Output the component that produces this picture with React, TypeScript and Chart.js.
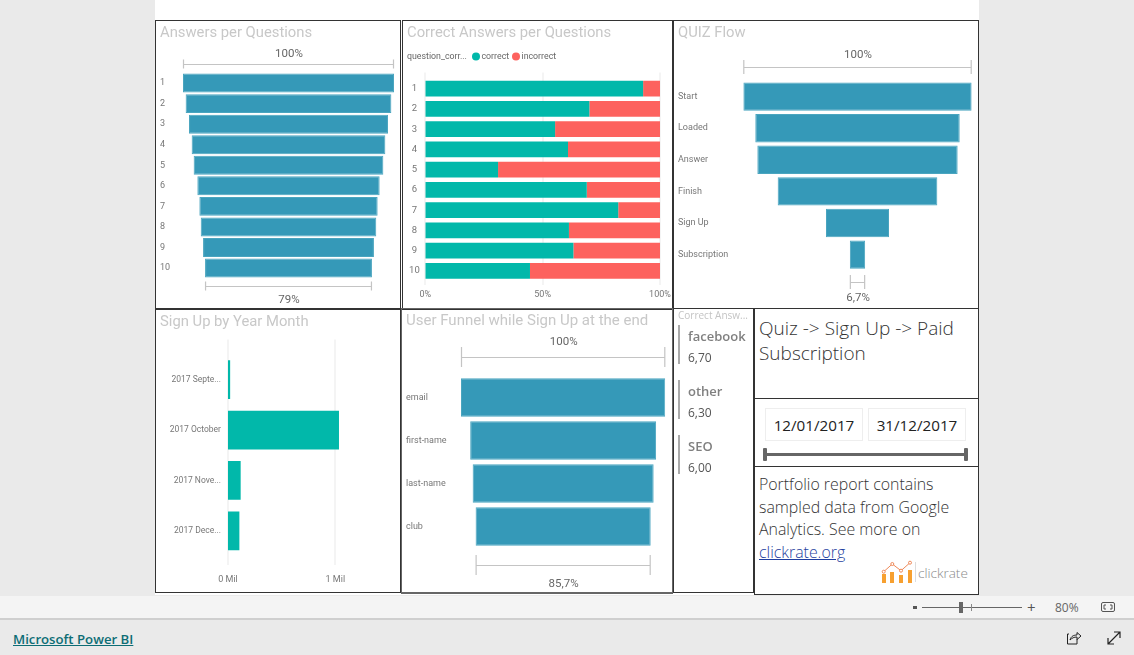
import React, { useEffect, useRef } from "react";
import { Chart, registerables } from "chart.js";

Chart.register(...registerables);

const questionLabels = ["1", "2", "3", "4", "5", "6", "7", "8", "9", "10"];
const answersPct = [100, 97.5, 94.3, 91.8, 89.9, 86.4, 84.5, 83.2, 81, 79.1];
const correctPct = [92.8, 69.9, 55.3, 60.8, 31, 68.8, 82.2, 61.2, 63.1, 44.6];
const incorrectPct = [7.2, 30.1, 44.7, 39.2, 69, 31.2, 17.8, 38.8, 36.9, 55.4];
const quizSteps = ["Start", "Loaded", "Answer", "Finish", "Sign Up", "Subscription"];
const quizPct = [100, 89.5, 87.7, 69.9, 27.6, 6.7];
const signupMonths = ["2017 Septe...", "2017 October", "2017 Nove...", "2017 Dece..."];
const signupValues = [20000, 1034000, 118000, 106000];
const funnelFields = ["email", "first-name", "last-name", "club"];
const funnelPct = [100, 91, 88.6, 85.7];
const cardNames = ["facebook", "other", "SEO"];
const cardValues = ["6,70", "6,30", "6,00"];

const DIN = "Roboto, sans-serif";
const SEGOE = "'Open Sans', sans-serif";
const BLUE = "#3599b8";
const TEAL = "#01b8aa";
const RED = "#fd625e";
const BRACKET = "#c4c4c4";
const LABEL = "#777777";

type FunnelSpec = {
  box: [number, number, number, number]; // left, top, width, height
  area: [number, number, number, number]; // left, top, right, bottom
  labels: string[];
  values: number[];
  bar: number;
  topLabel: string;
  bottomLabel: string;
  top: [number, number, number];
  bottom: [number, number, number];
};

function bracketPlugin(spec: FunnelSpec) {
  return {
    id: "bracket",
    afterDatasetsDraw(chart: any) {
      const { ctx, scales } = chart;
      const oy = spec.box[1];
      const first = spec.values[0];
      const last = spec.values[spec.values.length - 1];
      const draw = (v: number, y: number, h: number, ty: number, txt: string) => {
        const a = scales.x.getPixelForValue((100 - v) / 2);
        const b = scales.x.getPixelForValue((100 + v) / 2);
        ctx.save();
        ctx.strokeStyle = BRACKET;
        ctx.lineWidth = 1.2;
        ctx.beginPath();
        ctx.moveTo(a, y - oy + 0.5);
        ctx.lineTo(b, y - oy + 0.5);
        ctx.moveTo(a + 0.5, y - oy - h);
        ctx.lineTo(a + 0.5, y - oy + h);
        ctx.moveTo(b - 0.5, y - oy - h);
        ctx.lineTo(b - 0.5, y - oy + h);
        ctx.stroke();
        ctx.fillStyle = "#666666";
        ctx.font = `11.5px ${DIN}`;
        ctx.textAlign = "center";
        ctx.textBaseline = "middle";
        ctx.fillText(txt, (a + b) / 2 + 0.5, ty - oy);
        ctx.restore();
      };
      draw(first, spec.top[0], spec.top[1], spec.top[2], spec.topLabel);
      draw(last, spec.bottom[0], spec.bottom[1], spec.bottom[2], spec.bottomLabel);
    },
  };
}

function makeFunnel(canvas: HTMLCanvasElement, spec: FunnelSpec) {
  const [l, t, w, h] = spec.box;
  const [al, at, ar, ab] = spec.area;
  return new Chart(canvas, {
    type: "bar",
    data: {
      labels: spec.labels,
      datasets: [
        {
          data: spec.values.map((v) => [(100 - v) / 2, (100 + v) / 2]),
          backgroundColor: BLUE,
          borderColor: "#4aa5bf",
          borderWidth: 1,
          borderSkipped: false,
          barPercentage: spec.bar,
          categoryPercentage: 1,
        },
      ],
    },
    plugins: [bracketPlugin(spec)],
    options: {
      indexAxis: "y",
      animation: false,
      responsive: false,
      layout: { padding: { left: 5, top: at - t, right: l + w - ar, bottom: t + h - ab } },
      plugins: { legend: { display: false }, tooltip: { enabled: false } },
      scales: {
        x: { display: false, min: 0, max: 100 },
        y: {
          afterFit: (s: any) => { s.width = al - l - 5; },
          grid: { display: false, drawTicks: false },
          border: { display: false },
          ticks: {
            autoSkip: false,
            crossAlign: "far",
            padding: 0,
            color: LABEL,
            font: { family: DIN, size: 9 },
          },
        },
      },
    },
  } as any);
}

const gridPlugin = (up: number, down: number) => ({
  id: "longGrid",
  beforeDatasetsDraw(chart: any) {
    const { ctx, chartArea, scales } = chart;
    ctx.save();
    ctx.strokeStyle = "#f1f1f1";
    ctx.lineWidth = 1.5;
    scales.x.ticks.forEach((t: any) => {
      const x = Math.round(scales.x.getPixelForValue(t.value));
      ctx.beginPath();
      ctx.moveTo(x, chartArea.top - up);
      ctx.lineTo(x, chartArea.bottom + down);
      ctx.stroke();
    });
    ctx.restore();
  },
});

const legendPlugin = {
  id: "sideLegend",
  afterDraw(chart: any) {
    const { ctx } = chart;
    const y = 36.5;
    ctx.save();
    ctx.textBaseline = "middle";
    ctx.textAlign = "left";
    ctx.font = `8.8px ${DIN}`;
    ctx.fillStyle = "#666666";
    ctx.fillText("question_corr...", 5, y);
    const starts = [70, 110];
    chart.data.datasets.forEach((d: any, i: number) => {
      const cx = starts[i];
      ctx.fillStyle = d.backgroundColor;
      ctx.beginPath();
      ctx.arc(cx + 4, y, 4, 0, Math.PI * 2);
      ctx.fill();
      ctx.fillStyle = "#666666";
      ctx.fillText(d.label, cx + 9.5, y);
    });
    ctx.restore();
  },
};

const panelStyle = (left: number, top: number, width: number, height: number, extra: React.CSSProperties = {}): React.CSSProperties => ({
  position: "absolute",
  left,
  top,
  width,
  height,
  boxSizing: "border-box",
  border: "1px solid #333",
  background: "#fff",
  ...extra,
});

const titleStyle = (left: number, top: number, size = 14.8): React.CSSProperties => ({
  position: "absolute",
  left,
  top,
  font: `${size}px ${DIN}`,
  color: "#c8c8c8",
  whiteSpace: "nowrap",
});

const abs = (left: number, top: number, extra: React.CSSProperties = {}): React.CSSProperties => ({
  position: "absolute",
  left,
  top,
  whiteSpace: "nowrap",
  ...extra,
});

export default function App() {
  const c1 = useRef<HTMLCanvasElement>(null);
  const c2 = useRef<HTMLCanvasElement>(null);
  const c3 = useRef<HTMLCanvasElement>(null);
  const c4 = useRef<HTMLCanvasElement>(null);
  const c5 = useRef<HTMLCanvasElement>(null);

  useEffect(() => {
    document.body.style.margin = "0";
    document.body.style.overflow = "hidden";
    const charts: Chart[] = [];
    charts.push(
      makeFunnel(c1.current!, {
        box: [155, 20, 246, 288], area: [183, 72.8, 394, 278.3],
        labels: questionLabels, values: answersPct, bar: 0.92,
        topLabel: "100%", bottomLabel: "79%",
        top: [64, 4.5, 54], bottom: [286, 4.5, 300],
      })
    );
    charts.push(
      makeFunnel(c3.current!, {
        box: [673, 20, 306, 288], area: [743.3, 80.8, 971.7, 270.4],
        labels: quizSteps, values: quizPct, bar: 0.9,
        topLabel: "100%", bottomLabel: "6,7%",
        top: [67, 7, 55], bottom: [282, 7, 298],
      })
    );
    charts.push(
      makeFunnel(c5.current!, {
        box: [401, 308, 272, 286], area: [461, 376, 665.3, 548],
        labels: funnelFields, values: funnelPct, bar: 0.9,
        topLabel: "100%", bottomLabel: "85,7%",
        top: [357, 10, 342], bottom: [565, 10, 584],
      })
    );
    charts.push(
      new Chart(c2.current!, {
        type: "bar",
        data: {
          labels: questionLabels,
          datasets: [
            { label: "correct", data: correctPct, backgroundColor: TEAL, barPercentage: 0.78, categoryPercentage: 1 },
            { label: "incorrect", data: incorrectPct, backgroundColor: RED, barPercentage: 0.78, categoryPercentage: 1 },
          ],
        },
        plugins: [gridPlugin(6, 4), legendPlugin],
        options: {
          indexAxis: "y",
          animation: false,
          responsive: false,
          layout: { padding: { left: 0, top: 58.6, right: 13, bottom: 5 } },
          plugins: { legend: { display: false }, tooltip: { enabled: false } },
          scales: {
            x: {
              stacked: true, min: 0, max: 100,
              afterFit: (s: any) => { s.height = 22; s.paddingLeft = 0; s.paddingRight = 0; },
              grid: { display: false, drawTicks: false },
              border: { display: false },
              ticks: {
                stepSize: 50, maxRotation: 0, padding: 8, color: LABEL,
                font: { family: DIN, size: 9 },
                callback: (v: any) => `${v}%`,
              },
            },
            y: {
              stacked: true,
              afterFit: (s: any) => { s.width = 23.3; },
              grid: { display: false, drawTicks: false },
              border: { display: false },
              ticks: { autoSkip: false, crossAlign: "center", padding: 5.5, color: LABEL, font: { family: DIN, size: 9.5 } },
            },
          },
        },
      } as any)
    );
    charts.push(
      new Chart(c4.current!, {
        type: "bar",
        data: {
          labels: signupMonths,
          datasets: [
            { data: signupValues, backgroundColor: TEAL, barPercentage: 0.77, categoryPercentage: 1 },
          ],
        },
        plugins: [gridPlugin(15, 9)],
        options: {
          indexAxis: "y",
          animation: false,
          responsive: false,
          layout: { padding: { left: 0, top: 46.5, right: 12, bottom: 5 } },
          plugins: { legend: { display: false }, tooltip: { enabled: false } },
          scales: {
            x: {
              min: 0, max: 1500000,
              afterBuildTicks: (s: any) => { s.ticks = [{ value: 0 }, { value: 1000000 }]; },
              afterFit: (s: any) => { s.height = 32; s.paddingLeft = 0; s.paddingRight = 0; },
              grid: { display: false, drawTicks: false },
              border: { display: false },
              ticks: {
                maxRotation: 0, padding: 18.5, color: LABEL,
                font: { family: DIN, size: 9 },
                callback: (v: any) => `${v / 1000000} Mil`,
              },
            },
            y: {
              afterFit: (s: any) => { s.width = 73; },
              grid: { display: false, drawTicks: false },
              border: { display: false },
              ticks: { autoSkip: false, padding: 7, color: LABEL, font: { family: DIN, size: 8.5 } },
            },
          },
        },
      } as any)
    );
    return () => charts.forEach((c) => c.destroy());
  }, []);

  const cardTops = [325, 380, 435];
  const overlay = { background: "transparent" };

  return (
    <div style={{ position: "absolute", left: 0, top: 0, width: 1134, height: 655, background: "#eaeaea", overflow: "hidden" }}>
      <div style={{ position: "absolute", left: 155, top: 0, width: 824, height: 595, background: "#fff" }} />

      <canvas ref={c1} width={246} height={288} style={{ position: "absolute", left: 155, top: 20 }} />
      <canvas ref={c2} width={271} height={288} style={{ position: "absolute", left: 402, top: 20 }} />
      <canvas ref={c3} width={306} height={288} style={{ position: "absolute", left: 673, top: 20 }} />
      <canvas ref={c4} width={246} height={285} style={{ position: "absolute", left: 155, top: 308 }} />
      <canvas ref={c5} width={272} height={286} style={{ position: "absolute", left: 401, top: 308 }} />

      <div style={panelStyle(155, 20, 246, 290, overlay)} />
      <div style={panelStyle(402, 20, 271, 290, overlay)} />
      <div style={panelStyle(673, 20, 306, 290, overlay)} />
      <div style={panelStyle(155, 308, 246, 285, overlay)} />
      <div style={panelStyle(401, 308, 272, 286, { ...overlay, borderColor: "#666", borderBottomWidth: 2, borderRightWidth: 1 })} />

      <div style={titleStyle(160, 23)}>Answers per Questions</div>
      <div style={titleStyle(407, 23)}>Correct Answers per Questions</div>
      <div style={titleStyle(678, 23)}>QUIZ Flow</div>
      <div style={titleStyle(160, 312)}>Sign Up by Year Month</div>
      <div style={titleStyle(406, 311, 15)}>User Funnel while Sign Up at the end</div>

      <div style={panelStyle(673, 308, 81, 285)} />
      <div style={abs(678, 308, { font: `10px ${SEGOE}`, color: "#c4c4c4" })}>Correct Answ...</div>
      {cardNames.map((n, i) => (
        <React.Fragment key={n}>
          <div style={{ position: "absolute", left: 678, top: cardTops[i], width: 2, height: 39, background: "#aaaaaa" }} />
          <div style={abs(688, cardTops[i] + 2, { font: `600 13px ${SEGOE}`, color: "#808080" })}>{n}</div>
          <div style={abs(688, cardTops[i] + 24, { font: `12px ${SEGOE}`, color: "#555" })}>{cardValues[i]}</div>
        </React.Fragment>
      ))}

      <div style={panelStyle(754, 308, 225, 91)}>
        <div style={abs(4, 7, { font: `300 19px/25px ${SEGOE}`, color: "#333", whiteSpace: "pre" })}>{"Quiz -> Sign Up -> Paid\nSubscription"}</div>
      </div>
      <div style={panelStyle(754, 398, 225, 69)}>
        <div style={{ position: "absolute", left: 10, top: 9, width: 98, height: 33, boxSizing: "border-box", border: "1px solid #eeeeee", textAlign: "center", font: `15.2px/33px ${SEGOE}`, color: "#222" }}>12/01/2017</div>
        <div style={{ position: "absolute", left: 113, top: 9, width: 98, height: 33, boxSizing: "border-box", border: "1px solid #eeeeee", textAlign: "center", font: `15.2px/33px ${SEGOE}`, color: "#222" }}>31/12/2017</div>
        <div style={{ position: "absolute", left: 10, top: 54, width: 201, height: 3, background: "#666" }} />
        <div style={{ position: "absolute", left: 8, top: 49, width: 4, height: 13, borderRadius: 1, background: "#666" }} />
        <div style={{ position: "absolute", left: 209, top: 49, width: 4, height: 13, borderRadius: 1, background: "#666" }} />
      </div>
      <div style={panelStyle(754, 466, 225, 129)}>
        <div style={abs(4, 6, { font: `300 15.9px/22.5px ${SEGOE}`, color: "#333", whiteSpace: "pre" })}>
          {"Portfolio report contains\nsampled data from Google\nAnalytics. See more on\n"}
          <span style={{ color: "#1f3fa0", textDecoration: "underline" }}>clickrate.org</span>
        </div>
        <svg style={{ position: "absolute", left: 125, top: 91 }} width={36} height={26}>
          <rect x={2} y={16} width={4} height={9} fill="#f7a030" />
          <rect x={10} y={14} width={4} height={11} fill="#f7a030" />
          <rect x={19} y={17} width={4} height={8} fill="#f7a030" />
          <rect x={28} y={12} width={4} height={13} fill="#f7a030" />
          <polyline points="3.7,13.7 12.3,6 21,12.7 30,4.7" fill="none" stroke="#ef8a5a" strokeWidth={1} />
          <circle cx={3.7} cy={13.7} r={1.5} fill="#fff" stroke="#ef8a5a" />
          <circle cx={12.3} cy={6} r={1.5} fill="#fff" stroke="#ef8a5a" />
          <circle cx={21} cy={12.7} r={1.5} fill="#fff" stroke="#ef8a5a" />
          <circle cx={30} cy={4.7} r={1.5} fill="#fff" stroke="#ef8a5a" />
        </svg>
        <div style={{ position: "absolute", left: 160, top: 95, width: 1, height: 20, background: "#dddddd" }} />
        <div style={abs(163, 97, { font: `300 13.5px ${SEGOE}`, color: "#8a8a8a" })}>clickrate</div>
      </div>

      <div style={{ position: "absolute", left: 0, top: 596, width: 1134, height: 22, background: "#f4f4f4", borderBottom: "2px solid #cfcfcf" }} />
      <div style={{ position: "absolute", left: 913, top: 606, width: 4, height: 3, background: "#555" }} />
      <div style={{ position: "absolute", left: 922, top: 607, width: 100, height: 1, background: "#666" }} />
      <div style={{ position: "absolute", left: 959, top: 602, width: 4, height: 11, background: "#666" }} />
      <div style={{ position: "absolute", left: 971, top: 604, width: 1, height: 7, background: "#888" }} />
      <div style={abs(1027, 597, { font: `15px ${SEGOE}`, color: "#555" })}>+</div>
      <div style={abs(1055, 599, { font: `12px ${SEGOE}`, color: "#666" })}>80%</div>
      <svg style={{ position: "absolute", left: 1100, top: 600 }} width={16} height={14}>
        <rect x={1.5} y={2.5} width={13} height={9} rx={1.5} fill="none" stroke="#555" />
        <path d="M4 7 V5 H6 M12 7 V5 H10 M4 7 V9 H6 M12 7 V9 H10" fill="none" stroke="#555" />
      </svg>
      <div style={abs(13, 630, { font: `600 13.2px ${SEGOE}`, color: "#0d6d75", textDecoration: "underline" })}>Microsoft Power BI</div>
      <svg style={{ position: "absolute", left: 1066, top: 630 }} width={60} height={16}>
        <path d="M3 4 H1.5 V14 H11 V9" fill="none" stroke="#222" strokeWidth={1} />
        <path d="M4 10 C5 6 8 5 11 5 V2.5 L15 6 L11 9.5 V7 C8 7 6 8 4 10Z" fill="none" stroke="#222" strokeWidth={1} />
        <path d="M42 14 L54 2 M48 2 H54 V8 M42 8 V14 H48" fill="none" stroke="#222" strokeWidth={1.2} />
      </svg>
    </div>
  );
}
